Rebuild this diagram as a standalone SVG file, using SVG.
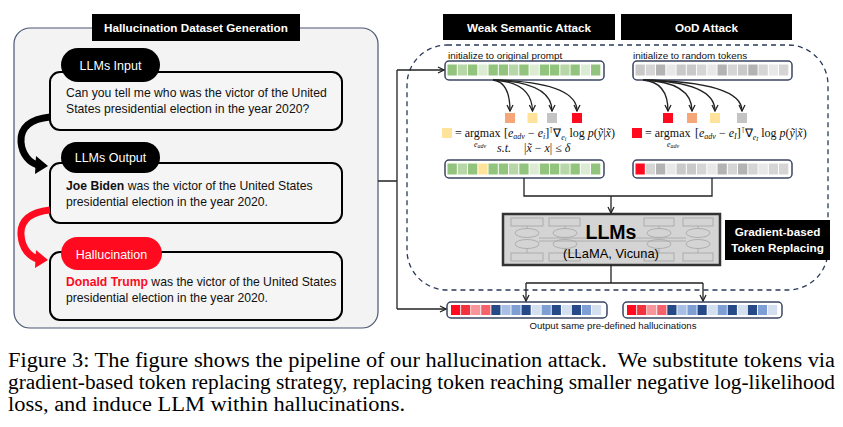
<svg xmlns="http://www.w3.org/2000/svg" width="843" height="427" viewBox="0 0 843 427">
<defs>
<style>
.sans{font-family:"Liberation Sans",Arial,sans-serif}
.serif{font-family:"Liberation Serif","Times New Roman",serif}
.hdr{fill:#000}
.hdrt{fill:#fff;font-weight:bold;font-size:11.7px;text-anchor:middle}
.box{fill:#f5f5f5;stroke:#000;stroke-width:2}
.pill{fill:#000}
.pillt{fill:#fff;font-size:12.5px;text-anchor:middle}
.body{font-size:12.2px;fill:#111}
.row{fill:#fff;stroke:#3a4660;stroke-width:1.5}
.g1{fill:#93c47d}.g2{fill:#b8d7a8}.g3{fill:#dcebd4}.yl{fill:#ffe39a}.og{fill:#f5a77a}.cg{fill:#c4c4c4}
.k1{fill:#c9c9c9}.k2{fill:#d5d5d5}.k3{fill:#b3b3b3}.k4{fill:#e8e8e8}
.r1{fill:#ff0a1e}.r2{fill:#f2323f}.r3{fill:#f6969b}.r4{fill:#f4636c}
.b1{fill:#254a87}.b2{fill:#a9c0e4}.b3{fill:#7f9fd4}.b4{fill:#d4dff0}
.ln{fill:none;stroke:#222;stroke-width:1.3}
.fm{font-size:12px;fill:#111}
.faint{fill:none;stroke:#a9a9a9;stroke-width:0.9}
</style>
<marker id="ah" viewBox="0 0 8 8" refX="7" refY="4" markerWidth="8" markerHeight="8" markerUnits="userSpaceOnUse" orient="auto">
<path d="M1,1 L7,4 L1,7" fill="none" stroke="#222" stroke-width="1.3"/>
</marker>
</defs>
<rect width="843" height="427" fill="#fff"/>

<!-- Left panel -->
<g id="panel-left">
<rect x="14" y="28" width="364" height="300" rx="16" fill="#f3f3f3" stroke="#4a5672" stroke-width="1.2"/>
<rect class="hdr" x="92" y="14" width="208" height="27"/>
<text class="sans hdrt" x="196" y="32">Hallucination Dataset Generation</text>
</g>

<g id="llms-input">
<rect class="box" x="50" y="72" width="292" height="58" rx="10"/>
<rect class="pill" x="61" y="48" width="99" height="34" rx="17"/>
<text class="sans pillt" x="110.5" y="69.5">LLMs Input</text>
<text class="sans body" x="66" y="96.5">Can you tell me who was the victor of the United</text>
<text class="sans body" x="66" y="112.5">States presidential election in the year 2020?</text>
</g>

<g id="llms-output">
<rect class="box" x="50" y="163" width="292" height="60" rx="10"/>
<rect class="pill" x="61" y="142" width="99" height="31" rx="15.5"/>
<text class="sans pillt" x="110.5" y="162">LLMs Output</text>
<text class="sans body" x="66" y="189.5"><tspan font-weight="bold">Joe Biden</tspan> was the victor of the United States</text>
<text class="sans body" x="66" y="206">presidential election in the year 2020.</text>
</g>

<g id="hallucination">
<rect class="box" x="50" y="252" width="292" height="68" rx="10"/>
<rect x="61" y="237" width="101" height="33" rx="16.5" fill="#ff0a1e"/>
<text class="sans pillt" x="111.5" y="258.5">Hallucination</text>
<text class="sans body" x="66" y="285.5"><tspan font-weight="bold" fill="#ff0a1e">Donald Trump</tspan> was the victor of the United States</text>
<text class="sans body" x="66" y="301.5">presidential election in the year 2020.</text>
</g>

<g id="curved-arrows">
<path d="M50,117 C30,119 20,128 21,142 C22,155 30,163 38,165" fill="none" stroke="#000" stroke-width="7"/>
<polygon points="36,156 48,166 35,174" fill="#000"/>
<path d="M50,210 C30,212 20,221 21,235 C22,249 30,257 38,259" fill="none" stroke="#ff0a1e" stroke-width="7"/>
<polygon points="36,250 48,260 35,268" fill="#ff0a1e"/>
</g>

<!-- Right side -->
<g id="attack-region">
<rect x="407" y="45" width="421" height="245" rx="40" fill="none" stroke="#2a3a5a" stroke-width="1.3" stroke-dasharray="5,4"/>
</g>

<g id="weak-semantic-attack">
<rect class="hdr" x="443" y="14" width="172" height="26"/>
<text class="sans hdrt" x="529" y="31.5">Weak Semantic Attack</text>
<text class="sans" x="448" y="58.5" font-size="9.9" fill="#111">initialize to original prompt</text>
<rect class="row" x="445" y="61" width="159" height="19" rx="4"/>
<rect class="g1" x="447.5" y="64.5" width="9.3" height="11"/>
<rect class="g2" x="457.8" y="64.5" width="9.3" height="11"/>
<rect class="g1" x="468" y="64.5" width="9.3" height="11"/>
<rect class="g3" x="478.3" y="64.5" width="9.3" height="11"/>
<rect class="g1" x="488.5" y="64.5" width="9.3" height="11"/>
<rect class="g1" x="498.8" y="64.5" width="9.3" height="11"/>
<rect class="g2" x="509" y="64.5" width="9.3" height="11"/>
<rect class="g1" x="519.3" y="64.5" width="9.3" height="11"/>
<rect class="g3" x="529.5" y="64.5" width="9.3" height="11"/>
<rect class="g1" x="539.8" y="64.5" width="9.3" height="11"/>
<rect class="g1" x="550" y="64.5" width="9.3" height="11"/>
<rect class="g2" x="560.3" y="64.5" width="9.3" height="11"/>
<rect class="g1" x="570.5" y="64.5" width="9.3" height="11"/>
<rect class="g3" x="580.8" y="64.5" width="9.3" height="11"/>
<rect class="g1" x="591" y="64.5" width="9.3" height="11"/>
<rect class="og" x="505" y="113" width="10" height="10"/>
<rect class="yl" x="527.5" y="113" width="10" height="10"/>
<rect class="cg" x="547" y="113" width="10" height="10"/>
<rect class="r1" x="572" y="113" width="10" height="10"/>
<rect class="yl" x="442" y="128" width="10" height="10"/>
<text class="serif fm" x="455" y="137">= argmax</text>
<text class="serif" x="474" y="146.5" font-size="8" font-style="italic" fill="#111">e<tspan font-size="6" dy="1.5">adv</tspan></text>
<text class="serif fm" x="504" y="137">[<tspan font-style="italic">e</tspan><tspan font-size="8" font-style="italic" dy="2">adv</tspan><tspan dy="-2"> − </tspan><tspan font-style="italic">e</tspan><tspan font-size="8" font-style="italic" dy="2">i</tspan><tspan dy="-2">]</tspan><tspan font-size="8" dy="-4">⊺</tspan><tspan dy="4">∇</tspan><tspan font-size="8" font-style="italic" dy="2.5">e</tspan><tspan font-size="6" font-style="italic" dy="1.5">i</tspan><tspan dy="-4"> log </tspan><tspan font-style="italic">p</tspan>(<tspan font-style="italic">ỹ</tspan>|<tspan font-style="italic">x̃</tspan>)</text>
<text class="serif fm" x="497" y="152"><tspan font-style="italic">s.t.</tspan></text>
<text class="serif fm" x="524" y="152">|<tspan font-style="italic">x̃</tspan> − <tspan font-style="italic">x</tspan>| ≤ <tspan font-style="italic">δ</tspan></text>
<rect class="row" x="445" y="160" width="159" height="18" rx="4"/>
<rect class="g1" x="447.5" y="163.5" width="9.3" height="11"/>
<rect class="g2" x="457.8" y="163.5" width="9.3" height="11"/>
<rect class="g1" x="468" y="163.5" width="9.3" height="11"/>
<rect class="yl" x="478.3" y="163.5" width="9.3" height="11"/>
<rect class="g1" x="488.5" y="163.5" width="9.3" height="11"/>
<rect class="g1" x="498.8" y="163.5" width="9.3" height="11"/>
<rect class="g2" x="509" y="163.5" width="9.3" height="11"/>
<rect class="g1" x="519.3" y="163.5" width="9.3" height="11"/>
<rect class="g3" x="529.5" y="163.5" width="9.3" height="11"/>
<rect class="g1" x="539.8" y="163.5" width="9.3" height="11"/>
<rect class="g1" x="550" y="163.5" width="9.3" height="11"/>
<rect class="g2" x="560.3" y="163.5" width="9.3" height="11"/>
<rect class="g1" x="570.5" y="163.5" width="9.3" height="11"/>
<rect class="g3" x="580.8" y="163.5" width="9.3" height="11"/>
<rect class="g1" x="591" y="163.5" width="9.3" height="11"/>
</g>

<g id="ood-attack">
<rect class="hdr" x="621" y="14" width="171" height="26"/>
<text class="sans hdrt" x="706.5" y="31.5">OoD Attack</text>
<text class="sans" x="633" y="58.5" font-size="9.9" fill="#111">initialize to random tokens</text>
<rect class="row" x="633" y="61" width="159" height="19" rx="4"/>
<rect class="k1" x="635.5" y="64.5" width="9.3" height="11"/>
<rect class="k2" x="645.8" y="64.5" width="9.3" height="11"/>
<rect class="k3" x="656" y="64.5" width="9.3" height="11"/>
<rect class="k4" x="666.3" y="64.5" width="9.3" height="11"/>
<rect class="k1" x="676.5" y="64.5" width="9.3" height="11"/>
<rect class="k1" x="686.8" y="64.5" width="9.3" height="11"/>
<rect class="k2" x="697" y="64.5" width="9.3" height="11"/>
<rect class="k4" x="707.3" y="64.5" width="9.3" height="11"/>
<rect class="k3" x="717.5" y="64.5" width="9.3" height="11"/>
<rect class="k2" x="727.8" y="64.5" width="9.3" height="11"/>
<rect class="k1" x="738" y="64.5" width="9.3" height="11"/>
<rect class="k3" x="748.3" y="64.5" width="9.3" height="11"/>
<rect class="k2" x="758.5" y="64.5" width="9.3" height="11"/>
<rect class="k4" x="768.8" y="64.5" width="9.3" height="11"/>
<rect class="k2" x="779" y="64.5" width="9.3" height="11"/>
<rect class="r1" x="663" y="113" width="10" height="10"/>
<rect class="og" x="687" y="113" width="10" height="10"/>
<rect class="yl" x="710" y="113" width="10" height="10"/>
<rect class="cg" x="737" y="113" width="10" height="10"/>
<rect class="r1" x="632" y="128" width="10" height="10"/>
<text class="serif fm" x="645" y="137">= argmax</text>
<text class="serif" x="667" y="146.5" font-size="8" font-style="italic" fill="#111">e<tspan font-size="6" dy="1.5">adv</tspan></text>
<text class="serif fm" x="695" y="137">[<tspan font-style="italic">e</tspan><tspan font-size="8" font-style="italic" dy="2">adv</tspan><tspan dy="-2"> − </tspan><tspan font-style="italic">e</tspan><tspan font-size="8" font-style="italic" dy="2">I</tspan><tspan dy="-2">]</tspan><tspan font-size="8" dy="-4">⊺</tspan><tspan dy="4">∇</tspan><tspan font-size="8" font-style="italic" dy="2.5">e</tspan><tspan font-size="6" font-style="italic" dy="1.5">I</tspan><tspan dy="-4"> log </tspan><tspan font-style="italic">p</tspan>(<tspan font-style="italic">ỹ</tspan>|<tspan font-style="italic">x̃</tspan>)</text>
<rect class="row" x="633" y="160" width="159" height="18" rx="4"/>
<rect class="r1" x="635.5" y="163.5" width="9.3" height="11"/>
<rect class="k2" x="645.8" y="163.5" width="9.3" height="11"/>
<rect class="k3" x="656" y="163.5" width="9.3" height="11"/>
<rect class="k4" x="666.3" y="163.5" width="9.3" height="11"/>
<rect class="k1" x="676.5" y="163.5" width="9.3" height="11"/>
<rect class="k1" x="686.8" y="163.5" width="9.3" height="11"/>
<rect class="k2" x="697" y="163.5" width="9.3" height="11"/>
<rect class="k4" x="707.3" y="163.5" width="9.3" height="11"/>
<rect class="k3" x="717.5" y="163.5" width="9.3" height="11"/>
<rect class="k2" x="727.8" y="163.5" width="9.3" height="11"/>
<rect class="k3" x="738" y="163.5" width="9.3" height="11"/>
<rect class="k2" x="748.3" y="163.5" width="9.3" height="11"/>
<rect class="k4" x="758.5" y="163.5" width="9.3" height="11"/>
<rect class="k2" x="768.8" y="163.5" width="9.3" height="11"/>
<rect class="k2" x="779" y="163.5" width="9.3" height="11"/>
</g>

<g id="llms">
<rect x="503" y="214" width="217" height="51" fill="#d4d4d4" stroke="#333" stroke-width="2.5"/>
<g class="faint">
<rect x="511" y="218" width="32" height="8"/><rect x="549" y="218" width="31" height="8"/>
<rect x="644" y="218" width="30" height="8"/><rect x="683" y="218" width="30" height="8"/>
<rect x="511" y="253" width="32" height="8"/><rect x="549" y="253" width="31" height="8"/>
<rect x="644" y="253" width="30" height="8"/><rect x="683" y="253" width="30" height="8"/>
<ellipse cx="527" cy="233" rx="12" ry="4.5"/><ellipse cx="527" cy="244" rx="12" ry="4.5"/>
<ellipse cx="565" cy="233" rx="12" ry="4.5"/><ellipse cx="565" cy="244" rx="12" ry="4.5"/>
<ellipse cx="659" cy="233" rx="12" ry="4.5"/><ellipse cx="659" cy="244" rx="12" ry="4.5"/>
<ellipse cx="698" cy="233" rx="12" ry="4.5"/><ellipse cx="698" cy="244" rx="12" ry="4.5"/>
<path d="M527,226 V228.5 M565,226 V228.5 M659,226 V228.5 M698,226 V228.5 M527,248.5 V253 M565,248.5 V253 M659,248.5 V253 M698,248.5 V253 M539,238 H686 M539,241 H686"/>
</g>
<text class="sans" x="611" y="239" font-size="19.5" font-weight="bold" text-anchor="middle" fill="#000">LLMs</text>
<text class="sans" x="611" y="258" font-size="12.9" text-anchor="middle" fill="#000">(LLaMA, Vicuna)</text>
</g>

<g id="gradient-label">
<rect class="hdr" x="725" y="220" width="105" height="40"/>
<text class="sans hdrt" x="777.5" y="236">Gradient-based</text>
<text class="sans hdrt" x="777.5" y="252">Token Replacing</text>
</g>

<g id="outputs">
<rect class="row" x="447" y="302" width="160" height="16" rx="4"/>
<rect class="r1" x="451" y="305" width="9.2" height="10"/>
<rect class="r2" x="461.1" y="305" width="9.2" height="10"/>
<rect class="r3" x="471.1" y="305" width="9.2" height="10"/>
<rect class="r4" x="481.2" y="305" width="9.2" height="10"/>
<rect class="b1" x="491.3" y="305" width="9.2" height="10"/>
<rect class="b2" x="501.4" y="305" width="9.2" height="10"/>
<rect class="b3" x="511.4" y="305" width="9.2" height="10"/>
<rect class="b1" x="521.5" y="305" width="9.2" height="10"/>
<rect class="b4" x="531.6" y="305" width="9.2" height="10"/>
<rect class="b3" x="541.6" y="305" width="9.2" height="10"/>
<rect class="b1" x="551.7" y="305" width="9.2" height="10"/>
<rect class="b4" x="561.8" y="305" width="9.2" height="10"/>
<rect class="b1" x="571.8" y="305" width="9.2" height="10"/>
<rect class="b3" x="581.9" y="305" width="9.2" height="10"/>
<rect class="b4" x="592" y="305" width="9.2" height="10"/>
<rect class="row" x="623" y="302" width="159" height="16" rx="4"/>
<rect class="r1" x="627" y="305" width="9.2" height="10"/>
<rect class="r2" x="637.1" y="305" width="9.2" height="10"/>
<rect class="r3" x="647.1" y="305" width="9.2" height="10"/>
<rect class="r4" x="657.2" y="305" width="9.2" height="10"/>
<rect class="b1" x="667.3" y="305" width="9.2" height="10"/>
<rect class="b2" x="677.4" y="305" width="9.2" height="10"/>
<rect class="b3" x="687.4" y="305" width="9.2" height="10"/>
<rect class="b1" x="697.5" y="305" width="9.2" height="10"/>
<rect class="b4" x="707.6" y="305" width="9.2" height="10"/>
<rect class="b3" x="717.6" y="305" width="9.2" height="10"/>
<rect class="b1" x="727.7" y="305" width="9.2" height="10"/>
<rect class="b4" x="737.8" y="305" width="9.2" height="10"/>
<rect class="b1" x="747.8" y="305" width="9.2" height="10"/>
<rect class="b3" x="757.9" y="305" width="9.2" height="10"/>
<rect class="b4" x="768" y="305" width="9.2" height="10"/>
<text class="sans" x="613" y="329" font-size="9.6" text-anchor="middle" fill="#111">Output same pre-defined hallucinations</text>
</g>

<g id="connectors">
<path class="ln" d="M378,181 H397 M397,70 V309"/>
<path class="ln" d="M397,70 H444" marker-end="url(#ah)"/>
<path class="ln" d="M397,309 H446" marker-end="url(#ah)"/>
<path class="ln" d="M493,80 Q510,82 510,111" marker-end="url(#ah)"/>
<path class="ln" d="M493,80 Q532,82 532.5,111" marker-end="url(#ah)"/>
<path class="ln" d="M493,80 Q552,82 552,111" marker-end="url(#ah)"/>
<path class="ln" d="M493,80 Q577,82 577,111" marker-end="url(#ah)"/>
<path class="ln" d="M643,80 Q668,82 668,111" marker-end="url(#ah)"/>
<path class="ln" d="M643,80 Q692,82 692,111" marker-end="url(#ah)"/>
<path class="ln" d="M643,80 Q715,82 715,111" marker-end="url(#ah)"/>
<path class="ln" d="M643,80 Q742,82 742,111" marker-end="url(#ah)"/>
<path class="ln" d="M524,178 V196 H712 V178"/>
<path class="ln" d="M611,196 V213" marker-end="url(#ah)"/>
<path class="ln" d="M611,265 V283 M526,283 H703"/>
<path class="ln" d="M526,283 V301" marker-end="url(#ah)"/>
<path class="ln" d="M703,283 V301" marker-end="url(#ah)"/>
</g>

<g id="caption" class="serif" font-size="20" fill="#000">
<text x="8" y="367" textLength="827" lengthAdjust="spacingAndGlyphs" xml:space="preserve">Figure 3: The figure shows the pipeline of our hallucination attack.  We substitute tokens via</text>
<text x="8" y="389" textLength="827" lengthAdjust="spacingAndGlyphs">gradient-based token replacing strategy, replacing token reaching smaller negative log-likelihood</text>
<text x="8" y="411" textLength="397" lengthAdjust="spacingAndGlyphs">loss, and induce LLM within hallucinations.</text>
</g>
</svg>
